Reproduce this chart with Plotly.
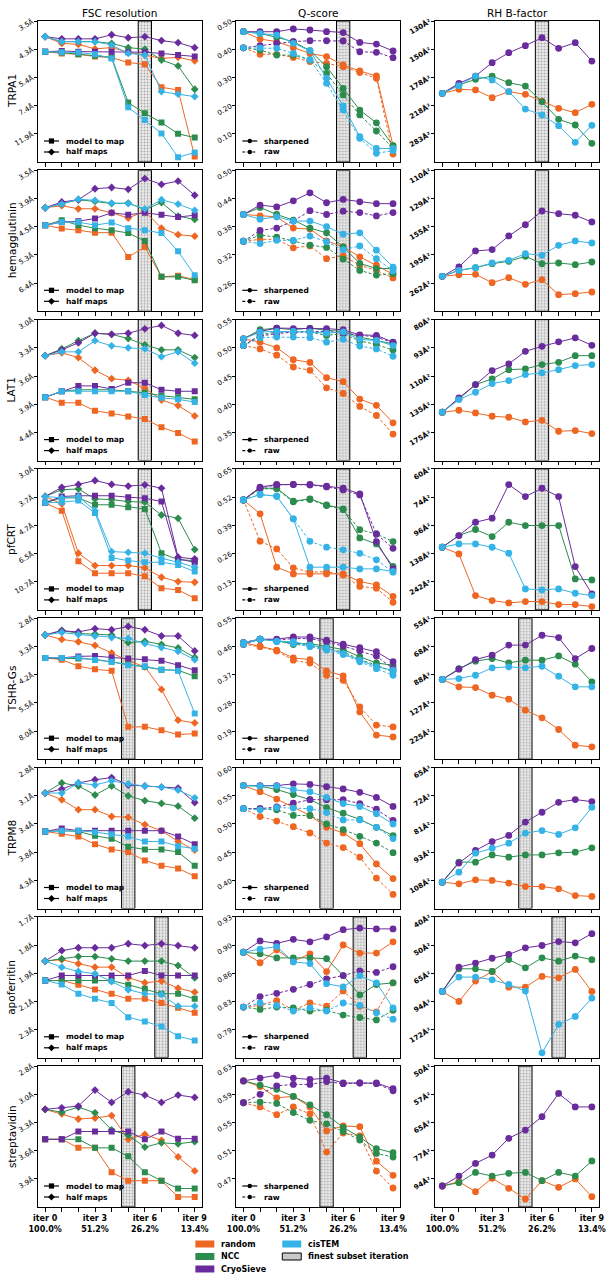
import plotly.graph_objects as go

# ---------------- data ----------------
ITERS = list(range(10))
X_TICK_TEXT = ["iter 0<br>100.0%", "", "", "iter 3<br>51.2%", "", "", "iter 6<br>26.2%", "", "", "iter 9<br>13.4%"]
METHODS = ["random", "NCC", "CryoSieve", "cisTEM"]
COLORS = {"random": "#EE6622", "NCC": "#2B8C4E", "CryoSieve": "#6A2C9C", "cisTEM": "#36B3E6"}
PROTEINS = ["TRPA1", "hemagglutinin", "LAT1", "pfCRT", "TSHR-Gs", "TRPM8", "apoferritin", "streptavidin"]
FINEST_ITER = [6, 6, 6, 6, 5, 5, 7, 5]

# ---- TRPA1 ----
TRPA1_FSC_TICKS = [3.5, 4.3, 5.4, 7.4, 11.9]
TRPA1_Q_TICKS = [0.50, 0.40, 0.30, 0.20, 0.10]
TRPA1_B_TICKS = [130, 150, 178, 218, 283]
TRPA1_FSC_M2M = {
    "random": [4.33, 4.39, 4.42, 4.50, 4.54, 4.73, 4.80, 5.98, 6.16, 23.1],
    "NCC": [4.33, 4.36, 4.42, 4.47, 4.53, 7.15, 8.29, 9.61, 11.9, 12.95],
    "CryoSieve": [4.33, 4.31, 4.33, 4.33, 4.33, 4.35, 4.35, 4.39, 4.45, 4.50],
    "cisTEM": [4.33, 4.35, 4.36, 4.42, 4.57, 7.61, 9.19, 11.8, 23.8, 19.8],
}
TRPA1_FSC_HALF = {
    "random": [3.88, 4.07, 4.10, 4.24, 4.20, 4.35, 4.45, 4.57, 4.53, 4.66],
    "NCC": [3.88, 4.02, 4.02, 4.02, 4.07, 4.20, 4.25, 4.63, 4.87, 6.11],
    "CryoSieve": [3.88, 3.94, 3.94, 3.94, 3.83, 3.91, 3.88, 3.99, 4.05, 4.20],
    "cisTEM": [3.88, 4.02, 4.02, 4.02, 4.12, 4.39, 4.45, 6.27, 6.46, 6.64],
}
TRPA1_Q_SHARP = {
    "random": [0.462, 0.436, 0.427, 0.405, 0.385, 0.374, 0.344, 0.323, 0.305, 0.058],
    "NCC": [0.462, 0.456, 0.442, 0.427, 0.395, 0.338, 0.261, 0.184, 0.139, 0.058],
    "CryoSieve": [0.462, 0.462, 0.462, 0.472, 0.468, 0.462, 0.459, 0.424, 0.418, 0.394],
    "cisTEM": [0.462, 0.456, 0.450, 0.421, 0.395, 0.297, 0.199, 0.090, 0.048, 0.048],
}
TRPA1_Q_RAW = {
    "random": [0.405, 0.382, 0.382, 0.371, 0.356, 0.350, 0.338, 0.317, 0.297, 0.028],
    "NCC": [0.405, 0.397, 0.379, 0.379, 0.362, 0.314, 0.238, 0.167, 0.110, 0.048],
    "CryoSieve": [0.405, 0.413, 0.421, 0.427, 0.430, 0.430, 0.429, 0.391, 0.389, 0.370],
    "cisTEM": [0.405, 0.405, 0.403, 0.385, 0.362, 0.279, 0.184, 0.084, 0.031, 0.040],
}
TRPA1_BFAC = {
    "random": [199.0, 193.3, 194.2, 205.5, 196.6, 200.5, 210.9, 223.6, 231.9, 216.5],
    "NCC": [199.0, 187.5, 180.5, 176.6, 184.6, 188.9, 212.0, 245.9, 259.2, 314.3],
    "CryoSieve": [199.0, 185.4, 176.6, 162.4, 153.3, 147.4, 141.3, 149.6, 145.1, 160.9],
    "cisTEM": [199.0, 188.4, 176.6, 181.3, 196.6, 224.9, 236.6, 260.9, 310.8, 260.0],
}

# ---- hemagglutinin ----
HA_FSC_TICKS = [3.5, 3.9, 4.5, 5.3, 6.4]
HA_Q_TICKS = [0.50, 0.44, 0.38, 0.32, 0.26]
HA_B_TICKS = [110, 129, 155, 195, 262]
HA_FSC_M2M = {
    "random": [4.49, 4.57, 4.61, 4.67, 4.67, 5.37, 5.06, 6.12, 6.07, 6.24],
    "NCC": [4.49, 4.38, 4.49, 4.56, 4.61, 4.68, 4.89, 6.12, 6.12, 6.27],
    "CryoSieve": [4.49, 4.42, 4.40, 4.34, 4.22, 4.26, 4.22, 4.26, 4.31, 4.27],
    "cisTEM": [4.49, 4.42, 4.42, 4.49, 4.43, 4.56, 4.61, 4.68, 5.19, 6.05],
}
HA_FSC_HALF = {
    "random": [4.12, 4.08, 4.14, 4.14, 4.22, 4.33, 4.19, 4.56, 4.72, 4.76],
    "NCC": [4.12, 4.05, 3.97, 4.00, 4.04, 4.03, 4.16, 4.02, 4.29, 4.36],
    "CryoSieve": [4.12, 4.01, 3.97, 3.78, 3.76, 3.79, 3.62, 3.71, 3.66, 3.89],
    "cisTEM": [4.12, 4.05, 3.96, 3.98, 4.03, 4.04, 4.14, 3.97, 4.05, 4.17],
}
HA_Q_SHARP = {
    "random": [0.406, 0.403, 0.401, 0.377, 0.375, 0.350, 0.337, 0.316, 0.298, 0.279],
    "NCC": [0.406, 0.421, 0.406, 0.394, 0.377, 0.367, 0.337, 0.302, 0.291, 0.291],
    "CryoSieve": [0.406, 0.426, 0.422, 0.435, 0.452, 0.431, 0.438, 0.433, 0.429, 0.429],
    "cisTEM": [0.406, 0.396, 0.401, 0.392, 0.392, 0.380, 0.364, 0.367, 0.330, 0.294],
}
HA_Q_RAW = {
    "random": [0.349, 0.353, 0.353, 0.335, 0.339, 0.312, 0.318, 0.298, 0.287, 0.271],
    "NCC": [0.349, 0.362, 0.358, 0.350, 0.341, 0.336, 0.311, 0.287, 0.277, 0.280],
    "CryoSieve": [0.349, 0.372, 0.377, 0.392, 0.414, 0.406, 0.413, 0.410, 0.403, 0.410],
    "cisTEM": [0.349, 0.344, 0.351, 0.351, 0.360, 0.348, 0.331, 0.339, 0.312, 0.286],
}
HA_BFAC = {
    "random": [242.0, 237.5, 236.6, 260.6, 245.6, 266.0, 251.4, 305.3, 300.9, 294.0],
    "NCC": [242.0, 226.6, 220.3, 211.6, 206.8, 197.3, 211.6, 210.2, 213.7, 208.2],
    "CryoSieve": [242.0, 218.8, 188.0, 185.8, 166.1, 152.7, 139.1, 141.6, 143.1, 149.8],
    "cisTEM": [242.0, 226.6, 220.3, 210.2, 204.8, 192.6, 195.5, 179.1, 172.8, 175.7],
}

# ---- LAT1 ----
LAT1_FSC_TICKS = [3.0, 3.3, 3.6, 3.9, 4.4]
LAT1_Q_TICKS = [0.55, 0.50, 0.45, 0.40, 0.35]
LAT1_B_TICKS = [80, 93, 110, 135, 175]
LAT1_FSC_M2M = {
    "random": [3.84, 3.92, 3.92, 4.04, 4.08, 4.13, 4.17, 4.31, 4.41, 4.57],
    "NCC": [3.84, 3.76, 3.74, 3.74, 3.74, 3.76, 3.78, 3.82, 3.84, 3.87],
    "CryoSieve": [3.84, 3.76, 3.69, 3.69, 3.73, 3.65, 3.65, 3.74, 3.76, 3.76],
    "cisTEM": [3.84, 3.76, 3.76, 3.76, 3.76, 3.76, 3.81, 3.85, 3.87, 3.91],
}
LAT1_FSC_HALF = {
    "random": [3.34, 3.31, 3.36, 3.50, 3.60, 3.62, 3.72, 3.88, 3.96, 4.12],
    "NCC": [3.34, 3.27, 3.19, 3.12, 3.13, 3.17, 3.23, 3.28, 3.28, 3.36],
    "CryoSieve": [3.34, 3.28, 3.21, 3.12, 3.13, 3.12, 3.08, 3.05, 3.12, 3.14],
    "cisTEM": [3.34, 3.30, 3.30, 3.19, 3.24, 3.26, 3.27, 3.35, 3.30, 3.42],
}
LAT1_Q_SHARP = {
    "random": [0.516, 0.510, 0.500, 0.479, 0.474, 0.447, 0.440, 0.409, 0.398, 0.367],
    "NCC": [0.516, 0.532, 0.535, 0.532, 0.535, 0.531, 0.529, 0.519, 0.513, 0.507],
    "CryoSieve": [0.516, 0.529, 0.535, 0.534, 0.534, 0.534, 0.532, 0.523, 0.522, 0.510],
    "cisTEM": [0.516, 0.528, 0.529, 0.529, 0.528, 0.526, 0.528, 0.515, 0.513, 0.504],
}
LAT1_Q_RAW = {
    "random": [0.504, 0.498, 0.487, 0.466, 0.460, 0.429, 0.419, 0.396, 0.380, 0.347],
    "NCC": [0.504, 0.523, 0.528, 0.528, 0.528, 0.522, 0.525, 0.512, 0.506, 0.496],
    "CryoSieve": [0.504, 0.521, 0.525, 0.528, 0.529, 0.529, 0.526, 0.522, 0.519, 0.509],
    "cisTEM": [0.504, 0.518, 0.519, 0.519, 0.518, 0.510, 0.515, 0.503, 0.498, 0.485],
}
LAT1_BFAC = {
    "random": [144.4, 141.9, 145.2, 149.6, 150.9, 157.6, 155.2, 172.9, 171.7, 177.2],
    "NCC": [144.4, 129.4, 116.4, 112.0, 105.4, 104.9, 102.1, 100.7, 96.8, 96.8],
    "CryoSieve": [144.4, 128.4, 116.4, 106.0, 101.7, 94.4, 91.8, 89.6, 87.7, 91.3],
    "cisTEM": [144.4, 130.1, 123.0, 115.6, 113.2, 108.8, 107.6, 105.4, 102.7, 102.1],
}

# ---- pfCRT ----
PFCRT_FSC_TICKS = [3.0, 3.7, 4.7, 6.5, 10.7]
PFCRT_Q_TICKS = [0.65, 0.52, 0.39, 0.26, 0.13]
PFCRT_B_TICKS = [60, 74, 96, 138, 242]
PFCRT_FSC_M2M = {
    "random": [3.83, 4.09, 7.30, 8.97, 8.97, 8.97, 9.52, 12.58, 13.15, 17.2],
    "NCC": [3.83, 3.68, 3.68, 3.89, 3.89, 3.97, 4.03, 6.49, 7.12, 7.23],
    "CryoSieve": [3.83, 3.64, 3.62, 3.62, 3.62, 3.66, 3.69, 3.79, 7.05, 7.42],
    "cisTEM": [3.83, 3.81, 3.76, 4.17, 6.94, 7.23, 7.42, 7.42, 7.74, 8.70],
}
PFCRT_FSC_HALF = {
    "random": [3.64, 3.86, 6.49, 7.83, 7.83, 7.83, 8.14, 9.72, 10.67, 10.83],
    "NCC": [3.64, 3.46, 3.44, 3.71, 3.73, 3.79, 3.81, 4.25, 4.38, 6.18],
    "CryoSieve": [3.64, 3.40, 3.33, 3.24, 3.33, 3.37, 3.34, 3.42, 6.87, 7.05],
    "cisTEM": [3.64, 3.68, 3.64, 4.09, 6.35, 6.41, 6.49, 6.98, 7.42, 8.05],
}
PFCRT_Q_SHARP = {
    "random": [0.507, 0.443, 0.197, 0.166, 0.166, 0.166, 0.166, 0.131, 0.115, 0.062],
    "NCC": [0.507, 0.561, 0.561, 0.501, 0.512, 0.484, 0.466, 0.332, 0.304, 0.201],
    "CryoSieve": [0.507, 0.566, 0.578, 0.578, 0.578, 0.570, 0.561, 0.535, 0.315, 0.189],
    "cisTEM": [0.507, 0.532, 0.524, 0.420, 0.197, 0.197, 0.197, 0.189, 0.189, 0.177],
}
PFCRT_Q_RAW = {
    "random": [0.507, 0.317, 0.281, 0.194, 0.174, 0.176, 0.161, 0.108, 0.100, 0.035],
    "NCC": [0.507, 0.558, 0.558, 0.498, 0.509, 0.481, 0.462, 0.370, 0.350, 0.315],
    "CryoSieve": [0.507, 0.562, 0.576, 0.578, 0.576, 0.567, 0.553, 0.530, 0.350, 0.284],
    "cisTEM": [0.507, 0.532, 0.524, 0.420, 0.316, 0.289, 0.277, 0.261, 0.231, 0.174],
}
PFCRT_BFAC = {
    "random": [125.6, 138.5, 385.8, 491.2, 562.7, 519.5, 519.5, 628.1, 628.1, 730.5],
    "NCC": [125.6, 108.0, 100.7, 109.3, 93.1, 96.4, 96.4, 96.4, 225.0, 230.8],
    "CryoSieve": [125.6, 108.0, 93.1, 89.4, 67.0, 73.6, 68.9, 73.6, 172.0, 360.1],
    "cisTEM": [125.6, 120.0, 120.0, 125.6, 137.1, 300.0, 310.5, 300.0, 350.8, 385.8],
}

# ---- TSHR-Gs ----
TSHR_FSC_TICKS = [2.8, 3.3, 4.2, 5.5, 8.0]
TSHR_Q_TICKS = [0.55, 0.46, 0.37, 0.28, 0.19]
TSHR_B_TICKS = [55, 68, 88, 127, 225]
TSHR_FSC_M2M = {
    "random": [3.63, 3.68, 3.87, 3.97, 4.02, 7.49, 7.49, 7.90, 8.50, 8.35],
    "NCC": [3.63, 3.63, 3.65, 3.67, 3.74, 3.81, 3.89, 3.98, 4.00, 4.21],
    "CryoSieve": [3.63, 3.63, 3.59, 3.58, 3.62, 3.65, 3.67, 3.71, 3.84, 4.00],
    "cisTEM": [3.63, 3.63, 3.62, 3.69, 3.74, 3.84, 3.87, 3.98, 4.02, 6.21],
}
TSHR_FSC_HALF = {
    "random": [3.10, 3.19, 3.24, 3.32, 3.50, 3.71, 3.89, 4.75, 6.79, 7.06],
    "NCC": [3.10, 3.01, 3.07, 3.08, 3.10, 3.26, 3.23, 3.30, 3.38, 3.62],
    "CryoSieve": [3.10, 3.02, 3.04, 2.98, 3.00, 2.94, 3.00, 3.12, 3.12, 3.45],
    "cisTEM": [3.10, 3.05, 3.09, 3.12, 3.15, 3.17, 3.28, 3.37, 3.46, 3.68],
}
TSHR_Q_SHARP = {
    "random": [0.472, 0.461, 0.448, 0.423, 0.418, 0.382, 0.366, 0.251, 0.177, 0.171],
    "NCC": [0.472, 0.483, 0.478, 0.469, 0.469, 0.459, 0.450, 0.427, 0.407, 0.400],
    "CryoSieve": [0.472, 0.483, 0.483, 0.490, 0.490, 0.480, 0.467, 0.456, 0.443, 0.411],
    "cisTEM": [0.472, 0.483, 0.477, 0.475, 0.464, 0.455, 0.437, 0.416, 0.395, 0.384],
}
TSHR_Q_RAW = {
    "random": [0.467, 0.459, 0.445, 0.416, 0.407, 0.368, 0.352, 0.267, 0.209, 0.203],
    "NCC": [0.467, 0.483, 0.477, 0.466, 0.464, 0.451, 0.443, 0.418, 0.400, 0.379],
    "CryoSieve": [0.467, 0.483, 0.480, 0.485, 0.485, 0.475, 0.461, 0.446, 0.429, 0.389],
    "cisTEM": [0.467, 0.483, 0.475, 0.469, 0.459, 0.448, 0.434, 0.411, 0.389, 0.368],
}
TSHR_BFAC = {
    "random": [93.3, 101.8, 102.7, 113.6, 120.2, 143.3, 165.4, 216.2, 368.0, 397.8],
    "NCC": [93.3, 83.0, 77.2, 75.4, 78.5, 76.5, 76.5, 73.6, 79.5, 95.9],
    "CryoSieve": [93.3, 83.5, 76.1, 73.1, 67.1, 67.1, 62.1, 63.2, 75.4, 69.0],
    "cisTEM": [93.3, 92.3, 89.0, 82.4, 81.6, 82.4, 81.1, 89.9, 101.8, 101.8],
}

# ---- TRPM8 ----
TRPM8_FSC_TICKS = [2.8, 3.1, 3.4, 3.8, 4.3]
TRPM8_Q_TICKS = [0.60, 0.55, 0.50, 0.45, 0.40]
TRPM8_B_TICKS = [65, 72, 81, 93, 108]
TRPM8_FSC_M2M = {
    "random": [3.49, 3.52, 3.56, 3.67, 3.75, 3.79, 3.93, 4.02, 4.07, 4.22],
    "NCC": [3.49, 3.48, 3.49, 3.55, 3.59, 3.71, 3.75, 3.75, 3.79, 4.02],
    "CryoSieve": [3.49, 3.45, 3.48, 3.48, 3.48, 3.48, 3.48, 3.48, 3.56, 3.67],
    "cisTEM": [3.49, 3.48, 3.48, 3.50, 3.53, 3.56, 3.63, 3.63, 3.70, 3.74],
}
TRPM8_FSC_HALF = {
    "random": [3.04, 3.11, 3.22, 3.22, 3.30, 3.31, 3.40, 3.48, 3.63, 3.76],
    "NCC": [3.04, 2.94, 2.97, 3.06, 2.97, 3.07, 3.12, 3.15, 3.18, 3.32],
    "CryoSieve": [3.04, 3.00, 2.94, 2.91, 2.89, 2.96, 2.97, 2.98, 2.99, 3.14],
    "cisTEM": [3.04, 3.04, 2.94, 2.96, 2.92, 2.95, 2.97, 2.98, 3.01, 3.09],
}
TRPM8_Q_SHARP = {
    "random": [0.568, 0.557, 0.544, 0.530, 0.515, 0.494, 0.484, 0.465, 0.429, 0.403],
    "NCC": [0.568, 0.567, 0.561, 0.552, 0.543, 0.529, 0.519, 0.508, 0.494, 0.479],
    "CryoSieve": [0.568, 0.568, 0.568, 0.571, 0.570, 0.566, 0.562, 0.556, 0.547, 0.531],
    "cisTEM": [0.568, 0.567, 0.567, 0.561, 0.557, 0.547, 0.536, 0.531, 0.518, 0.500],
}
TRPM8_Q_RAW = {
    "random": [0.527, 0.513, 0.505, 0.495, 0.484, 0.466, 0.458, 0.441, 0.404, 0.375],
    "NCC": [0.527, 0.527, 0.525, 0.515, 0.515, 0.500, 0.490, 0.478, 0.466, 0.449],
    "CryoSieve": [0.527, 0.527, 0.530, 0.537, 0.543, 0.543, 0.543, 0.536, 0.526, 0.506],
    "cisTEM": [0.527, 0.525, 0.529, 0.528, 0.527, 0.520, 0.507, 0.507, 0.494, 0.474],
}
TRPM8_BFAC = {
    "random": [109.2, 110.3, 107.7, 108.1, 109.8, 112.1, 112.1, 113.7, 118.6, 119.3],
    "NCC": [109.2, 97.6, 97.6, 94.0, 95.1, 94.0, 94.0, 93.0, 92.7, 90.7],
    "CryoSieve": [109.2, 98.1, 91.9, 88.0, 85.5, 80.5, 77.2, 74.1, 73.3, 73.9],
    "cisTEM": [109.2, 103.1, 93.2, 90.9, 88.7, 84.6, 83.6, 85.1, 82.6, 75.6],
}

# ---- apoferritin ----
APO_FSC_TICKS = [1.7, 1.8, 1.9, 2.1, 2.3]
APO_Q_TICKS = [0.93, 0.90, 0.86, 0.83, 0.79]
APO_B_TICKS = [40, 50, 65, 94, 172]
APO_FSC_M2M = {
    "random": [1.994, 1.994, 2.017, 2.043, 2.068, 2.098, 2.098, 2.124, 2.153, 2.185],
    "NCC": [1.994, 1.994, 1.994, 1.994, 1.994, 2.017, 2.040, 2.068, 2.068, 2.098],
    "CryoSieve": [1.994, 1.967, 1.967, 1.967, 1.967, 1.967, 1.944, 1.967, 1.967, 1.967],
    "cisTEM": [1.994, 2.015, 2.068, 2.098, 2.124, 2.214, 2.243, 2.278, 2.348, 2.381],
}
APO_FSC_HALF = {
    "random": [1.894, 1.887, 1.907, 1.924, 1.924, 1.979, 2.006, 1.997, 2.036, 2.059],
    "NCC": [1.894, 1.883, 1.872, 1.872, 1.883, 1.894, 1.894, 1.894, 1.916, 1.979],
    "CryoSieve": [1.894, 1.844, 1.831, 1.831, 1.831, 1.813, 1.821, 1.813, 1.821, 1.831],
    "cisTEM": [1.894, 1.924, 1.946, 1.958, 1.999, 2.045, 2.068, 2.072, 2.143, 2.143],
}
APO_Q_SHARP = {
    "random": [0.886, 0.873, 0.889, 0.875, 0.884, 0.862, 0.895, 0.885, 0.885, 0.899],
    "NCC": [0.886, 0.884, 0.879, 0.879, 0.879, 0.878, 0.857, 0.833, 0.846, 0.848],
    "CryoSieve": [0.886, 0.900, 0.897, 0.902, 0.899, 0.905, 0.914, 0.916, 0.915, 0.915],
    "cisTEM": [0.886, 0.890, 0.893, 0.874, 0.872, 0.847, 0.843, 0.857, 0.848, 0.817],
}
APO_Q_RAW = {
    "random": [0.818, 0.820, 0.826, 0.814, 0.823, 0.819, 0.838, 0.819, 0.812, 0.848],
    "NCC": [0.818, 0.815, 0.818, 0.817, 0.813, 0.814, 0.808, 0.805, 0.802, 0.814],
    "CryoSieve": [0.818, 0.831, 0.835, 0.840, 0.846, 0.853, 0.857, 0.863, 0.861, 0.868],
    "cisTEM": [0.818, 0.823, 0.820, 0.813, 0.817, 0.813, 0.823, 0.820, 0.811, 0.803],
}
APO_BFAC = {
    "random": [81.3, 94.3, 71.1, 63.7, 76.7, 76.7, 67.3, 68.4, 62.3, 81.3],
    "NCC": [81.3, 61.9, 61.9, 63.7, 56.4, 61.3, 55.5, 57.3, 54.6, 56.5],
    "CryoSieve": [81.3, 60.8, 58.4, 55.7, 53.8, 50.7, 49.7, 48.1, 48.6, 45.2],
    "cisTEM": [81.3, 67.8, 67.8, 70.0, 74.1, 80.9, 534.8, 149.5, 124.2, 89.5],
}

# ---- streptavidin (no cisTEM) ----
STREP_FSC_TICKS = [2.8, 3.0, 3.3, 3.6, 3.9]
STREP_Q_TICKS = [0.63, 0.59, 0.55, 0.51, 0.47]
STREP_B_TICKS = [50, 57, 65, 77, 94]
STREP_FSC_M2M = {
    "random": [3.428, 3.428, 3.520, 3.520, 3.813, 3.926, 3.926, 3.926, 4.163, 4.163],
    "NCC": [3.428, 3.428, 3.428, 3.520, 3.520, 3.617, 3.813, 3.926, 4.036, 4.036],
    "CryoSieve": [3.428, 3.428, 3.348, 3.348, 3.348, 3.348, 3.428, 3.348, 3.421, 3.421],
}
STREP_FSC_HALF = {
    "random": [3.140, 3.180, 3.227, 3.218, 3.196, 3.428, 3.376, 3.439, 3.624, 3.795],
    "NCC": [3.140, 3.165, 3.120, 3.171, 3.332, 3.386, 3.512, 3.465, 3.476, 3.453],
    "CryoSieve": [3.140, 3.126, 3.111, 2.979, 3.080, 2.992, 3.019, 3.080, 3.019, 3.038],
}
STREP_Q_SHARP = {
    "random": [0.609, 0.601, 0.585, 0.587, 0.572, 0.538, 0.545, 0.544, 0.495, 0.475],
    "NCC": [0.609, 0.603, 0.597, 0.587, 0.575, 0.561, 0.543, 0.529, 0.513, 0.507],
    "CryoSieve": [0.609, 0.613, 0.617, 0.613, 0.611, 0.613, 0.606, 0.606, 0.606, 0.598],
}
STREP_Q_RAW = {
    "random": [0.578, 0.572, 0.561, 0.572, 0.562, 0.508, 0.535, 0.531, 0.481, 0.457],
    "NCC": [0.578, 0.579, 0.577, 0.564, 0.553, 0.548, 0.537, 0.525, 0.506, 0.501],
    "CryoSieve": [0.578, 0.590, 0.602, 0.604, 0.604, 0.608, 0.605, 0.606, 0.605, 0.595],
}
STREP_BFAC = {
    "random": [99.6, 96.1, 104.5, 93.6, 101.5, 111.6, 95.4, 100.7, 94.1, 109.2],
    "NCC": [99.6, 96.9, 89.5, 92.0, 90.1, 89.5, 95.4, 89.5, 92.0, 82.5],
    "CryoSieve": [99.6, 92.0, 83.9, 79.3, 71.4, 68.1, 63.3, 56.4, 60.2, 60.2],
}

ROWS = [
    (TRPA1_FSC_TICKS, TRPA1_FSC_M2M, TRPA1_FSC_HALF, TRPA1_Q_TICKS, TRPA1_Q_SHARP, TRPA1_Q_RAW, TRPA1_B_TICKS, TRPA1_BFAC),
    (HA_FSC_TICKS, HA_FSC_M2M, HA_FSC_HALF, HA_Q_TICKS, HA_Q_SHARP, HA_Q_RAW, HA_B_TICKS, HA_BFAC),
    (LAT1_FSC_TICKS, LAT1_FSC_M2M, LAT1_FSC_HALF, LAT1_Q_TICKS, LAT1_Q_SHARP, LAT1_Q_RAW, LAT1_B_TICKS, LAT1_BFAC),
    (PFCRT_FSC_TICKS, PFCRT_FSC_M2M, PFCRT_FSC_HALF, PFCRT_Q_TICKS, PFCRT_Q_SHARP, PFCRT_Q_RAW, PFCRT_B_TICKS, PFCRT_BFAC),
    (TSHR_FSC_TICKS, TSHR_FSC_M2M, TSHR_FSC_HALF, TSHR_Q_TICKS, TSHR_Q_SHARP, TSHR_Q_RAW, TSHR_B_TICKS, TSHR_BFAC),
    (TRPM8_FSC_TICKS, TRPM8_FSC_M2M, TRPM8_FSC_HALF, TRPM8_Q_TICKS, TRPM8_Q_SHARP, TRPM8_Q_RAW, TRPM8_B_TICKS, TRPM8_BFAC),
    (APO_FSC_TICKS, APO_FSC_M2M, APO_FSC_HALF, APO_Q_TICKS, APO_Q_SHARP, APO_Q_RAW, APO_B_TICKS, APO_BFAC),
    (STREP_FSC_TICKS, STREP_FSC_M2M, STREP_FSC_HALF, STREP_Q_TICKS, STREP_Q_SHARP, STREP_Q_RAW, STREP_B_TICKS, STREP_BFAC),
]
COL_TITLES = ["FSC resolution", "Q-score", "RH B-factor"]

# ---------------- layout geometry ----------------
W, H = 606, 1274
ML, MR, MT, MB = 37.5, 7, 21, 67
PW = W - ML - MR
PH = H - MT - MB
COLS_PX = [(37.5, 201.5), (236, 400), (435, 599)]
ROW_PITCH, ROW_H = 149.3, 141
FONT = "DejaVu Sans"


def fx(px):
    return (px - ML) / PW


def fy(py):
    return (H - MB - py) / PH


def clamp01(v):
    return min(1.0, max(0.0, v))


def axis_spec(ticks, inverse):
    tr = (lambda v: 1.0 / v) if inverse else (lambda v: v)
    idx = [i for i, t in enumerate(ticks) if t is not None]
    i0, i1 = idx[0], idx[-1]
    step = (tr(ticks[i0]) - tr(ticks[i1])) / (i1 - i0)
    hi = tr(ticks[i0]) + i0 * step
    lo = hi - 5 * step
    vals = [hi - k * step for k in range(len(ticks))]
    return lo, hi, vals


fig = go.Figure()
layout_axes = {}
shapes = []
annotations = []

for r, row in enumerate(ROWS):
    fsc_ticks, fsc_m2m, fsc_half, q_ticks, q_sharp, q_raw, b_ticks, bfac = row
    top = MT + ROW_PITCH * r
    bot = min(top + ROW_H, H - MB)
    for c in range(3):
        n = r * 3 + c + 1
        xa = "x" if n == 1 else f"x{n}"
        ya = "y" if n == 1 else f"y{n}"
        if c == 0:
            lo, hi, tv = axis_spec(fsc_ticks, True)
            tt = ["" if t is None else f"{t:.1f}Å" for t in fsc_ticks]
            tick_bold = "normal"
        elif c == 1:
            lo, hi, tv = axis_spec(q_ticks, False)
            tt = [f"{t:.2f}" for t in q_ticks]
            tick_bold = "normal"
        else:
            lo, hi, tv = axis_spec(b_ticks, True)
            tt = [f"{t:.0f}Å²" for t in b_ticks]
            tick_bold = "bold"

        # finest subset iteration band
        fig.add_trace(go.Bar(
            x=[FINEST_ITER[r]], y=[hi - lo], base=[lo], width=[0.8],
            marker=dict(color="#e6e6e6", line=dict(color="black", width=1),
                        pattern=dict(shape=".", fgcolor="#666666", bgcolor="#ebebeb", size=3, solidity=0.3)),
            xaxis=xa, yaxis=ya, showlegend=False, hoverinfo="skip"))

        for m in METHODS:
            col = COLORS[m]
            if c == 0:
                if m not in fsc_m2m:
                    continue
                for series, sym, sz in ((fsc_m2m[m], "square", 6), (fsc_half[m], "diamond", 6)):
                    fig.add_trace(go.Scatter(
                        x=ITERS, y=[1.0 / v for v in series], mode="lines+markers",
                        line=dict(color=col, width=1), marker=dict(symbol=sym, size=sz, color=col),
                        xaxis=xa, yaxis=ya, showlegend=False))
            elif c == 1:
                if m not in q_sharp:
                    continue
                for series, dash in ((q_sharp[m], "solid"), (q_raw[m], "3px,2px")):
                    fig.add_trace(go.Scatter(
                        x=ITERS, y=series, mode="lines+markers",
                        line=dict(color=col, width=1, dash=dash), marker=dict(symbol="circle", size=6.8, color=col),
                        xaxis=xa, yaxis=ya, showlegend=False))
            else:
                if m not in bfac:
                    continue
                fig.add_trace(go.Scatter(
                    x=ITERS, y=[1.0 / v for v in bfac[m]], mode="lines+markers",
                    line=dict(color=col, width=1), marker=dict(symbol="circle", size=6.8, color=col),
                    xaxis=xa, yaxis=ya, showlegend=False))

        x0p, x1p = COLS_PX[c]
        xkey = "xaxis" if n == 1 else f"xaxis{n}"
        ykey = "yaxis" if n == 1 else f"yaxis{n}"
        layout_axes[xkey] = dict(
            domain=[clamp01(fx(x0p)), clamp01(fx(x1p))], anchor=ya, range=[-0.43, 9.43],
            tickvals=ITERS, ticktext=X_TICK_TEXT, showticklabels=(r == len(ROWS) - 1),
            ticks="outside", ticklen=3.5, tickwidth=1, tickcolor="black",
            showline=True, linecolor="black", linewidth=1.3, mirror=True,
            showgrid=False, zeroline=False,
            tickfont=dict(family=FONT, size=8, color="black", weight="bold"))
        layout_axes[ykey] = dict(
            domain=[clamp01(fy(bot)), clamp01(fy(top))], anchor=xa, range=[lo, hi],
            tickvals=tv, ticktext=tt, tickangle=-30,
            ticks="outside", ticklen=3, tickwidth=1, tickcolor="black",
            showline=True, linecolor="black", linewidth=1.3, mirror=True,
            showgrid=False, zeroline=False,
            tickfont=dict(family=FONT, size=7, color="black", weight=tick_bold))

        # in-panel style legends (FSC / Q-score)
        if c in (0, 1):
            items = ([("model to map", "square", "solid"), ("half maps", "diamond", "solid")] if c == 0
                     else [("sharpened", "circle", "solid"), ("raw", "circle", "dash")])
            for k, (label, sym, dash) in enumerate(items):
                py = bot - 21 + 11 * k
                shapes.append(dict(type="line", xref="paper", yref="paper",
                                   x0=fx(x0p + 6), x1=fx(x0p + 21), y0=fy(py), y1=fy(py),
                                   line=dict(color="black", width=1.2, dash=("3px,2px" if dash == "dash" else "solid"))))
                if sym == "circle":
                    shapes.append(dict(type="circle", xref="paper", yref="paper",
                                       xsizemode="pixel", ysizemode="pixel",
                                       xanchor=fx(x0p + 13.5), yanchor=fy(py),
                                       x0=-2.2, x1=2.2, y0=-2.2, y1=2.2,
                                       fillcolor="black", line=dict(color="black", width=0)))
                else:
                    path = ("M-2.6,-2.6 L2.6,-2.6 L2.6,2.6 L-2.6,2.6 Z" if sym == "square"
                            else "M0,-3.4 L3.4,0 L0,3.4 L-3.4,0 Z")
                    shapes.append(dict(type="path", xref="paper", yref="paper",
                                       xsizemode="pixel", ysizemode="pixel",
                                       xanchor=fx(x0p + 13.5), yanchor=fy(py), path=path,
                                       fillcolor="black", line=dict(color="black", width=0)))
                annotations.append(dict(text=label, xref="paper", yref="paper",
                                        x=fx(x0p + 26), y=fy(py), xanchor="left", yanchor="middle",
                                        showarrow=False,
                                        font=dict(family=FONT, size=7.5, color="black", weight="bold")))

    # protein label
    annotations.append(dict(text=PROTEINS[r], xref="paper", yref="paper", x=fx(11), y=fy(top + ROW_H / 2),
                            xanchor="center", yanchor="middle", textangle=-90, showarrow=False,
                            font=dict(family=FONT, size=10.5, color="black")))

# column titles
for c, title in enumerate(COL_TITLES):
    x0p, x1p = COLS_PX[c]
    annotations.append(dict(text=title, xref="paper", yref="paper", x=fx((x0p + x1p) / 2), y=fy(13),
                            xanchor="center", yanchor="middle", showarrow=False,
                            font=dict(family=FONT, size=10.5, color="black")))

# global legend
LEGEND_ITEMS = [("random", COLORS["random"], 195, 1244), ("NCC", COLORS["NCC"], 195, 1256.5),
                ("CryoSieve", COLORS["CryoSieve"], 195, 1269), ("cisTEM", COLORS["cisTEM"], 282, 1244),
                ("finest subset iteration", None, 282, 1256.5)]
for label, colr, sx, sy in LEGEND_ITEMS:
    if colr is None:
        shapes.append(dict(type="rect", xref="paper", yref="paper", x0=fx(sx), x1=fx(sx + 19),
                           y0=fy(sy + 3.5), y1=fy(sy - 3.5), fillcolor="#c8c8c8",
                           line=dict(color="black", width=1)))
    else:
        shapes.append(dict(type="rect", xref="paper", yref="paper", x0=fx(sx), x1=fx(sx + 19),
                           y0=fy(sy + 3.5), y1=fy(sy - 3.5), fillcolor=colr, line=dict(width=0)))
    annotations.append(dict(text=label, xref="paper", yref="paper", x=fx(sx + 24), y=fy(sy),
                            xanchor="left", yanchor="middle", showarrow=False,
                            font=dict(family=FONT, size=8, color="black", weight="bold")))

fig.update_layout(
    width=W, height=H, margin=dict(l=ML, r=MR, t=MT, b=MB, autoexpand=False),
    paper_bgcolor="white", plot_bgcolor="white", showlegend=False,
    barmode="overlay", shapes=shapes, annotations=annotations,
    font=dict(family=FONT, color="black"), **layout_axes)

fig.write_html("out.html", config={"displayModeBar": False},
               post_script="document.body.style.margin='0';document.body.style.overflow='hidden';")
